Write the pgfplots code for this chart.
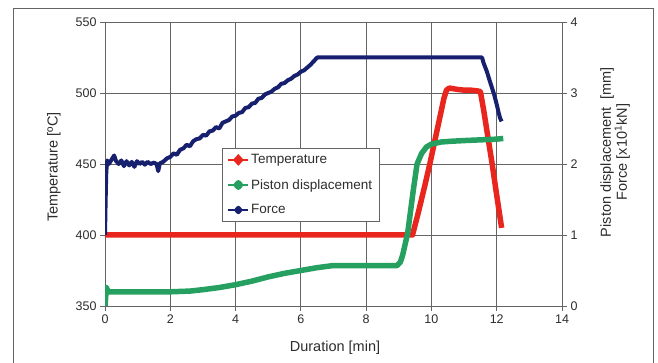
\documentclass[border=0pt]{standalone}
\usepackage{pgfplots}
\pgfplotsset{compat=1.18}
\usepackage{fontspec}
\setmainfont{Liberation Sans}
\definecolor{tred}{RGB}{232,38,30}
\definecolor{pgreen}{RGB}{38,160,96}
\definecolor{fnavy}{RGB}{22,32,110}
\definecolor{gridc}{RGB}{100,100,100}
\definecolor{txt}{RGB}{45,45,45}

\pgfplotstableread{
x T
0 400
9.42 400
9.6 416
9.8 435
9.96 451
10.1 466
10.25 482
10.38 496
10.46 502
10.55 503.5
10.8 502.5
11.0 502
11.2 502
11.4 501.5
11.5 501
11.6 488
11.86 450
12.0 428
12.15 405
}\temptable

\pgfplotstableread{
x P
0 0.0
0.02 0.12
0.04 0.26
0.1 0.2
0.5 0.2
1 0.2
2 0.2
2.6 0.21
3 0.23
3.5 0.26
4 0.3
4.5 0.35
5 0.41
5.5 0.46
6 0.5
6.5 0.54
7 0.57
8 0.57
8.95 0.57
9.05 0.62
9.12 0.72
9.2 0.88
9.27 1.02
9.35 1.3
9.45 1.65
9.56 2.0
9.7 2.15
9.85 2.24
10.0 2.28
10.3 2.31
10.6 2.32
11.0 2.33
11.5 2.34
12.0 2.35
12.2 2.36
}\pistontable

\pgfplotstableread{
x F
0 1.0
0.02 1.5
0.04 1.9
0.07 2.05
0.12 2.0
0.2 2.06
0.28 2.12
0.34 2.04
0.42 2.0
0.5 2.05
0.58 1.97
0.66 2.04
0.74 1.98
0.82 2.03
0.9 1.96
0.98 2.04
1.06 2.0
1.14 2.03
1.22 1.99
1.3 2.03
1.4 2.0
1.5 2.02
1.58 2.0
1.63 1.9
1.68 2.01
1.78 2.03
1.9 2.08
2.0 2.1
2.1 2.15
2.2 2.13
2.3 2.2
2.4 2.22
2.5 2.27
2.6 2.25
2.7 2.32
2.8 2.35
2.9 2.36
3.0 2.41
3.1 2.4
3.2 2.46
3.3 2.47
3.4 2.52
3.5 2.5
3.6 2.58
3.7 2.6
3.8 2.62
3.9 2.67
4.0 2.68
4.1 2.72
4.2 2.73
4.3 2.79
4.4 2.8
4.5 2.85
4.6 2.86
4.7 2.92
4.8 2.93
4.9 2.98
5.0 3.0
5.1 3.02
5.2 3.06
5.3 3.08
5.4 3.13
5.5 3.14
5.6 3.18
5.7 3.2
5.8 3.24
5.9 3.26
6.0 3.3
6.1 3.32
6.2 3.36
6.3 3.4
6.4 3.45
6.5 3.5
11.55 3.5
11.6 3.42
11.65 3.36
11.7 3.3
11.78 3.18
11.85 3.08
11.92 2.98
12.0 2.84
12.05 2.74
12.1 2.65
12.15 2.6
}\forcetable

\begin{document}
\begin{tikzpicture}
\path[use as bounding box] (0,0) rectangle (658pt,363pt);
\draw[gridc, line width=0.8pt] (13pt,-5pt) -- (13pt,355pt) -- (653pt,355pt) -- (653pt,-5pt);
\pgfplotsset{
  common/.style={
    at={(105pt,57pt)}, anchor=south west,
    scale only axis, width=457pt, height=284pt,
    xmin=0, xmax=14,
    axis line style={gridc, line width=0.9pt},
    tick style={gridc, line width=0.9pt},
    tick align=outside, major tick length=5pt,
    tick label style={font=\fontsize{12.5}{14}\selectfont, text=txt},
    /pgf/number format/assume math mode=true,
    legend image code/.code={
      \draw[##1, line width=1.8pt] (0pt,0pt) -- (20pt,0pt);
      \fill[##1] (8pt,0pt) -- (10pt,2.2pt) -- (12pt,0pt) -- (10pt,-2.2pt) -- cycle;
    },
  }
}
\begin{axis}[common,
  ymin=350, ymax=550,
  xtick={0,2,...,14}, ytick={350,400,...,550},
  xtick pos=bottom, ytick pos=left,
  grid=major, grid style={gridc, line width=0.9pt},
]
\addplot[tred, line width=5.5pt, line join=round] table[x=x, y=T] {\temptable};
\end{axis}
\begin{axis}[common,
  ymin=0, ymax=4,
  ytick={0,1,...,4},
  axis x line=none, axis y line*=right,
  legend style={at={(0.256,0.556)}, anchor=north west, draw=gridc, line width=0.9pt,
    fill=white, font=\fontsize{13.5}{15}\selectfont, text=txt,
    inner xsep=5pt, inner ysep=4pt, row sep=10pt},
  legend cell align=left,
]
\addlegendimage{tred, line width=5pt}
\addlegendentry{Temperature}
\addplot[pgreen, line width=5.5pt, line join=round] table[x=x, y=P] {\pistontable};
\addlegendentry{Piston displacement}
\addplot[fnavy, line width=4pt, line join=round] table[x=x, y=F] {\forcetable};
\addlegendentry{Force}
\end{axis}
\node[rotate=90, text=txt, font=\fontsize{14.5}{16}\selectfont] at (54pt,196pt) {Temperature [ºC]};
\node[rotate=90, text=txt, align=center, font=\fontsize{14.5}{16}\selectfont] at (615pt,211pt) {Piston displacement\ \ [mm]\\Force [x10\textsuperscript{1}kN]};
\node[text=txt, font=\fontsize{14.5}{16}\selectfont] at (335pt,15pt) {Duration [min]};
\end{tikzpicture}
\end{document}
